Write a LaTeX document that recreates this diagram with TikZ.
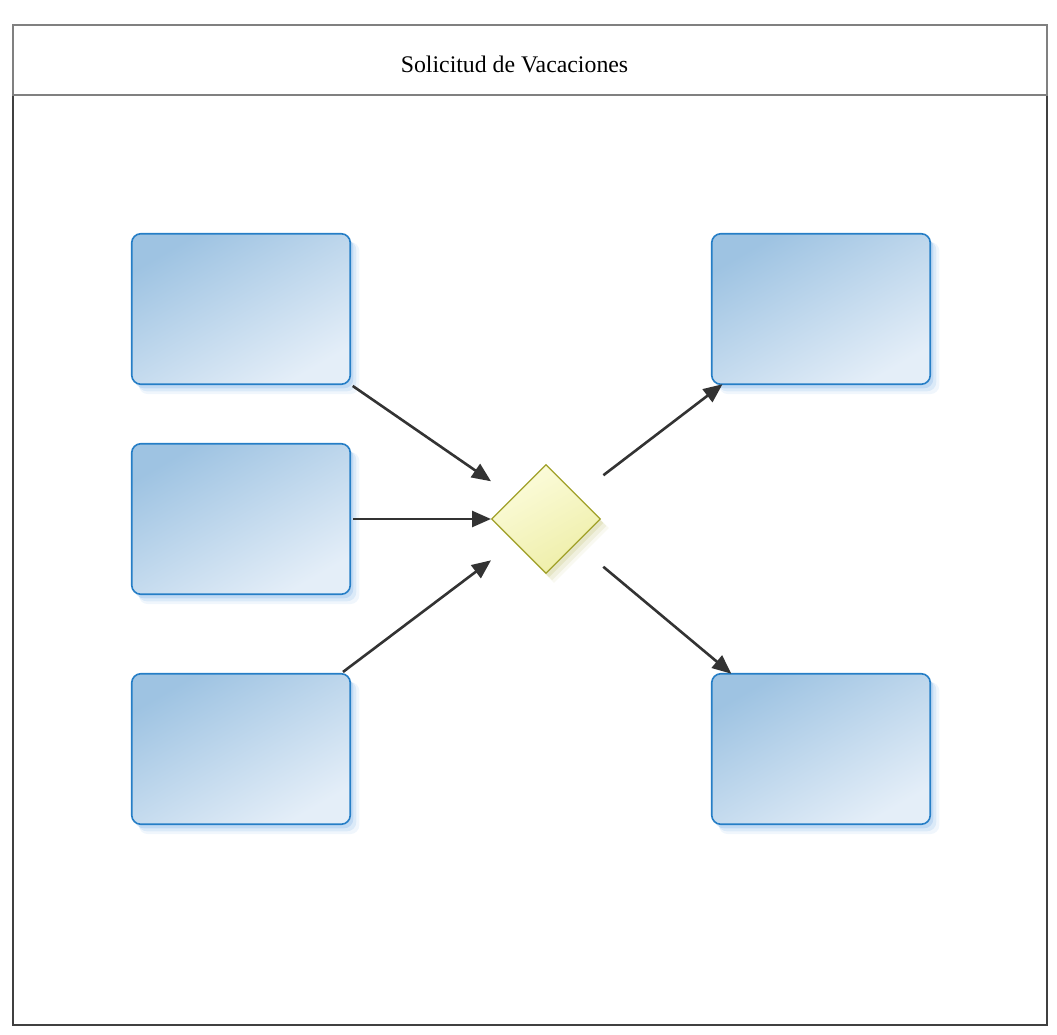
\documentclass[tikz,border=0pt]{standalone}
\usepackage{fontspec}
\setmainfont{Liberation Serif}
\usepackage{tikz}
\usetikzlibrary{shapes.geometric, arrows.meta, positioning, shadows}
\definecolor{taskline}{RGB}{38, 126, 198}
\definecolor{taskdark}{RGB}{158, 195, 226}
\definecolor{tasklight}{RGB}{228, 238, 248}
\definecolor{taskglow}{RGB}{110, 168, 228}
\definecolor{gateline}{RGB}{160, 160, 40}
\definecolor{gatelight}{RGB}{252, 252, 220}
\definecolor{gatedark}{RGB}{238, 238, 168}
\definecolor{gateglow}{RGB}{195, 195, 120}
\definecolor{flow}{RGB}{51, 51, 51}

\begin{document}
\begin{tikzpicture}[x=1pt, y=-1pt,
    glow/.style={general shadow={shadow xshift=8pt, shadow yshift=-9pt, shadow scale=1.01, fill=#1, opacity=0.10},
                 general shadow={shadow xshift=6pt, shadow yshift=-7pt, fill=#1, opacity=0.16},
                 general shadow={shadow xshift=3pt, shadow yshift=-4pt, fill=#1, opacity=0.24}},
    task/.style={rectangle, draw=taskline, line width=1.6pt, outer sep=0pt, rounded corners=9pt, minimum width=218.5pt, minimum height=150.5pt, inner sep=0pt, top color=taskdark, bottom color=tasklight, shading angle=30, glow=taskglow},
    gatebox/.style={rectangle, minimum size=110pt, inner sep=0pt, outer sep=0pt},
    gate/.style={diamond, draw=gateline, line width=1.2pt, minimum size=109pt, inner sep=0pt, top color=gatelight, bottom color=gatedark, shading angle=30, glow=gateglow},
    arrow/.style={line width=2.6pt, draw=flow, -{Triangle[length=19pt, width=16pt]}, shorten <=3pt}
]
    \useasboundingbox (0,0) rectangle (1057,1035);
    % Pool
    \draw[line width=1.5pt, draw=black!75] (13,95) rectangle (1047,1025);
    \draw[line width=1.5pt, draw=black!50] (13,25) rectangle (1047,95);
    \node[font=\fontsize{23.8}{28}\selectfont] (title) at (514.5,64) {Solicitud de Vacaciones};

    % Nodes
    \node[task] (in1) at (241,309) {};
    \node[task, below=59.5pt of in1] (in2) {};
    \node[task, below=79.5pt of in2] (in3) {};
    \node[gatebox, right=140.75pt of in2] (gw) {};
    \node[gate] at (gw) {};
    \node[task, right=361.5pt of in1] (out1) {};
    \node[task, below=289.5pt of out1] (out2) {};

    % Paths
    \draw[arrow] (in1) -- (gw);
    \draw[arrow] (in2) -- (gw);
    \draw[arrow] (in3) -- (gw);
    \draw[arrow] (gw) -- (out1);
    \draw[arrow] (gw) -- (out2);
\end{tikzpicture}
\end{document}
